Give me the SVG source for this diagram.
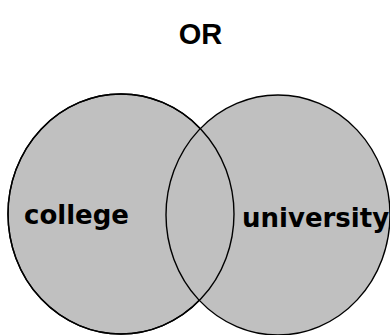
<svg xmlns="http://www.w3.org/2000/svg" width="390" height="335" viewBox="0 0 390 335">
<style>
.set{fill:#c0c0c0;stroke:#000;stroke-width:1.4}
.outline{fill:none;stroke:#000;stroke-width:1.4}
.lbl{font-family:"DejaVu Sans",sans-serif;font-weight:bold;font-size:26px;fill:#000}
.title{font-family:"Liberation Sans",Arial,sans-serif;font-weight:bold;font-size:29px;fill:#000}
</style>
<rect width="390" height="335" fill="#fff"/>
<text class="title" x="200.5" y="44" text-anchor="middle">OR</text>
<g id="college">
<ellipse class="set" cx="121" cy="214" rx="113" ry="120"/>
</g>
<g id="university">
<ellipse class="set" cx="278" cy="215" rx="112" ry="120"/>
</g>
<g id="outlines">
<ellipse class="outline" cx="121" cy="214" rx="113" ry="120"/>
</g>
<text class="lbl" x="24" y="224">college</text>
<text class="lbl" x="242" y="227">university</text>
</svg>
